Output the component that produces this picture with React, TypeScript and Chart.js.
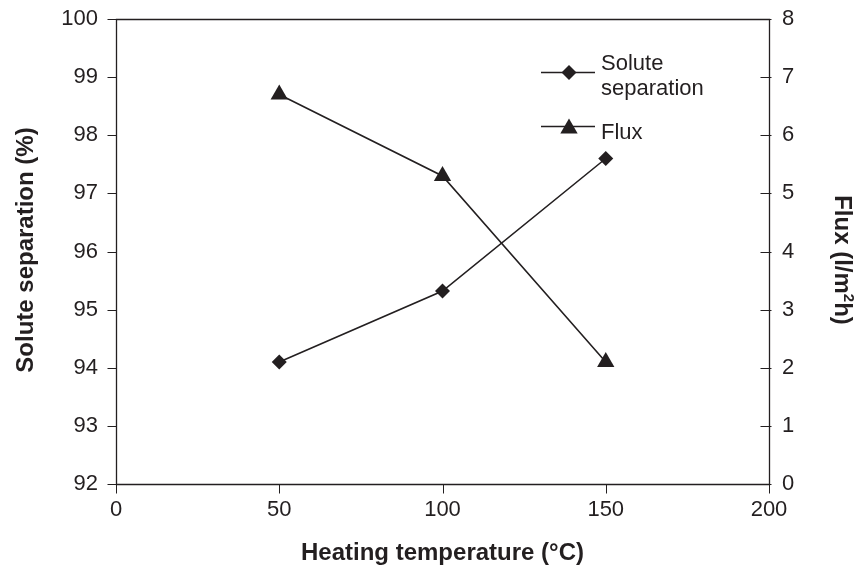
import React, { useEffect, useRef } from "react";
import { Chart, registerables } from "chart.js";

Chart.register(...registerables);

// ---- data ----
const temperatures = [50, 100, 150];
const soluteSeparation = [94.1, 95.32, 97.6];
const flux = [6.7, 5.3, 2.1];

const xTicks = [0, 50, 100, 150, 200];
const leftTicks = [92, 93, 94, 95, 96, 97, 98, 99, 100];
const rightTicks = [0, 1, 2, 3, 4, 5, 6, 7, 8];

const xTitle = "Heating temperature (°C)";
const leftTitle = "Solute separation (%)";
const rightTitleParts = ["Flux (l/m", "2", "h)"];
const legendLabels = [["Solute", "separation"], ["Flux"]];

const INK = "#231f20";
const FONT = "'Liberation Sans', Arial, Helvetica, sans-serif";

function drawDiamond(ctx: CanvasRenderingContext2D, x: number, y: number, r: number) {
  ctx.beginPath();
  ctx.moveTo(x, y - r);
  ctx.lineTo(x + r, y);
  ctx.lineTo(x, y + r);
  ctx.lineTo(x - r, y);
  ctx.closePath();
  ctx.fill();
}

function drawTriangle(ctx: CanvasRenderingContext2D, x: number, y: number, r: number) {
  const h = r * Math.sin(Math.PI / 3);
  ctx.beginPath();
  ctx.moveTo(x, y - r);
  ctx.lineTo(x + h, y + r / 2);
  ctx.lineTo(x - h, y + r / 2);
  ctx.closePath();
  ctx.fill();
}

function zeroPad(s: any) {
  s.paddingTop = 0;
  s.paddingBottom = 0;
  s.paddingLeft = 0;
  s.paddingRight = 0;
}

const framePlugin = {
  id: "frame",
  beforeDatasetsDraw(chart: any) {
    const { ctx, chartArea: a, scales } = chart;
    ctx.save();
    ctx.strokeStyle = INK;
    ctx.lineWidth = 1.3;
    const L = Math.round(a.left) + 0.5;
    const R = Math.round(a.right) + 0.5;
    const T = Math.round(a.top) + 0.5;
    const B = Math.round(a.bottom) + 0.5;
    ctx.beginPath();
    ctx.rect(L, T, R - L, B - T);
    ctx.stroke();
    ctx.lineWidth = 1;
    ctx.beginPath();
    for (const v of leftTicks) {
      const y = Math.round(scales.y.getPixelForValue(v)) + 0.5;
      ctx.moveTo(L - 9, y);
      ctx.lineTo(L, y);
    }
    for (const v of rightTicks) {
      const y = Math.round(scales.y1.getPixelForValue(v)) + 0.5;
      ctx.moveTo(R - 9, y);
      ctx.lineTo(R + 2, y);
    }
    for (const v of xTicks) {
      const x = Math.round(scales.x.getPixelForValue(v)) + 0.5;
      ctx.moveTo(x, B);
      ctx.lineTo(x, B + 9);
    }
    ctx.stroke();
    ctx.restore();
  },
  afterDraw(chart: any) {
    const { ctx, chartArea: a } = chart;
    ctx.save();
    ctx.fillStyle = INK;
    ctx.strokeStyle = INK;

    // x title
    ctx.font = `bold 24px ${FONT}`;
    ctx.textAlign = "center";
    ctx.textBaseline = "alphabetic";
    ctx.fillText(xTitle, (a.left + a.right) / 2, 560);

    // left title (rotated)
    ctx.save();
    ctx.translate(32.5, 250);
    ctx.rotate(-Math.PI / 2);
    ctx.fillText(leftTitle, 0, 0);
    ctx.restore();

    // right title with superscript
    ctx.save();
    ctx.translate(835, 260);
    ctx.rotate(Math.PI / 2);
    ctx.textAlign = "left";
    const big = `bold 24px ${FONT}`;
    const small = `bold 15px ${FONT}`;
    ctx.font = big;
    const w1 = ctx.measureText(rightTitleParts[0]).width;
    const w3 = ctx.measureText(rightTitleParts[2]).width;
    ctx.font = small;
    const w2 = ctx.measureText(rightTitleParts[1]).width;
    let x0 = -(w1 + w2 + w3) / 2;
    ctx.font = big;
    ctx.fillText(rightTitleParts[0], x0, 0);
    x0 += w1;
    ctx.font = small;
    ctx.fillText(rightTitleParts[1], x0, -9);
    x0 += w2;
    ctx.font = big;
    ctx.fillText(rightTitleParts[2], x0, 0);
    ctx.restore();

    // legend
    ctx.lineWidth = 1.6;
    ctx.beginPath();
    ctx.moveTo(541, 72.5);
    ctx.lineTo(595, 72.5);
    ctx.moveTo(541, 126.5);
    ctx.lineTo(595, 126.5);
    ctx.stroke();
    drawDiamond(ctx, 569, 72.5, 7.5);
    drawTriangle(ctx, 569, 128.5, 10);
    ctx.font = `22px ${FONT}`;
    ctx.textAlign = "left";
    ctx.fillText(legendLabels[0][0], 601, 70);
    ctx.fillText(legendLabels[0][1], 601, 95);
    ctx.fillText(legendLabels[1][0], 601, 139);
    ctx.restore();
  },
};

export default function App() {
  const canvasRef = useRef<HTMLCanvasElement | null>(null);

  useEffect(() => {
    const canvas = canvasRef.current;
    if (!canvas) return;
    const tickFont = { family: FONT, size: 22 };
    const chart = new Chart(canvas, {
      type: "line",
      data: {
        datasets: [
          {
            label: "Solute separation",
            data: temperatures.map((t, i) => ({ x: t, y: soluteSeparation[i] })),
            yAxisID: "y",
            borderColor: INK,
            backgroundColor: INK,
            borderWidth: 1.6,
            pointStyle: "rectRot",
            pointRadius: 7.5,
            pointBorderWidth: 0,
            pointBackgroundColor: INK,
            tension: 0,
          },
          {
            label: "Flux",
            data: temperatures.map((t, i) => ({ x: t, y: flux[i] })),
            yAxisID: "y1",
            borderColor: INK,
            backgroundColor: INK,
            borderWidth: 1.6,
            pointStyle: "triangle",
            pointRadius: 10,
            pointBorderWidth: 0,
            pointBackgroundColor: INK,
            tension: 0,
          },
        ],
      },
      options: {
        responsive: false,
        animation: false,
        layout: { padding: { top: 19, left: 0, right: 0, bottom: 0 } },
        plugins: {
          legend: { display: false },
          tooltip: { enabled: false },
        },
        scales: {
          x: {
            type: "linear",
            min: 0,
            max: 200,
            grid: { display: false, drawTicks: false },
            border: { display: false },
            ticks: { font: tickFont, color: INK, padding: 13, maxRotation: 0 },
            afterBuildTicks: (s: any) => {
              s.ticks = xTicks.map((v) => ({ value: v }));
            },
            afterFit: (s: any) => {
              s.height = 81;
              zeroPad(s);
            },
          },
          y: {
            type: "linear",
            position: "left",
            min: 92,
            max: 100,
            grid: { display: false, drawTicks: false },
            border: { display: false },
            ticks: { font: tickFont, color: INK, padding: 18 },
            afterBuildTicks: (s: any) => {
              s.ticks = leftTicks.map((v) => ({ value: v }));
            },
            afterFit: (s: any) => {
              s.width = 116;
              zeroPad(s);
            },
          },
          y1: {
            type: "linear",
            position: "right",
            min: 0,
            max: 8,
            grid: { display: false, drawTicks: false },
            border: { display: false },
            ticks: { font: tickFont, color: INK, padding: 13 },
            afterBuildTicks: (s: any) => {
              s.ticks = rightTicks.map((v) => ({ value: v }));
            },
            afterFit: (s: any) => {
              s.width = 89;
              zeroPad(s);
            },
          },
        },
      },
      plugins: [framePlugin],
    } as any);
    return () => chart.destroy();
  }, []);

  return (
    <div style={{ position: "absolute", left: 0, top: 0, width: 858, height: 565, background: "#fff" }}>
      <canvas ref={canvasRef} width={858} height={565} style={{ display: "block" }} />
    </div>
  );
}
